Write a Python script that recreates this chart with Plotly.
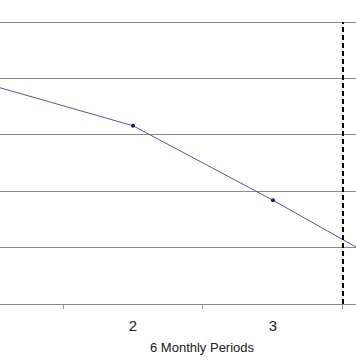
import plotly.graph_objects as go

periods = [1, 2, 3, 4]
values = [3.87, 3.16, 1.84, 0.44]
tick_labels = ["2", "3"]
tick_positions = [2, 3]
boundary_ticks = [1.5, 2.5, 3.5]
divider_x = 3.5
grid_top = 5
axis_title = "6 Monthly Periods"

fig = go.Figure()
fig.add_trace(go.Scatter(
    x=periods, y=values, mode="lines+markers",
    line=dict(color="#5555a0", width=1),
    marker=dict(color="#1a1a70", size=4),
    showlegend=False,
))
fig.add_shape(type="line", xref="x", yref="y",
              x0=divider_x, x1=divider_x, y0=0, y1=grid_top,
              line=dict(color="black", width=2, dash="5px,3px"))
fig.add_annotation(text=axis_title, xref="x", yref="paper",
                   x=2.5, y=0, yshift=-43, yanchor="middle", showarrow=False,
                   font=dict(family="Liberation Sans, Arial", size=13, color="#222"))
fig.update_xaxes(range=[1.05, 3.593], tickvals=tick_positions, ticktext=tick_labels,
                 ticks="", showgrid=False, zeroline=False, automargin=False,
                 showline=False, ticklabelstandoff=11,
                 tickfont=dict(family="Liberation Sans, Arial", size=15, color="#222"),
                 minor=dict(tickvals=boundary_ticks, ticks="outside", ticklen=4,
                            tickcolor="#999", showgrid=False))
fig.update_yaxes(range=[0, 5.39], dtick=1, showticklabels=False, showgrid=True,
                 automargin=False,
                 gridcolor="#8a8a8a", gridwidth=1, zeroline=True,
                 zerolinecolor="#8a8a8a", zerolinewidth=1)
fig.update_layout(width=356, height=364, margin=dict(l=0, r=0, t=0, b=60),
                  plot_bgcolor="white", paper_bgcolor="white")
fig.write_html("out.html", config={"displayModeBar": False},
               post_script="document.body.style.margin='0';document.body.style.overflow='hidden';")
